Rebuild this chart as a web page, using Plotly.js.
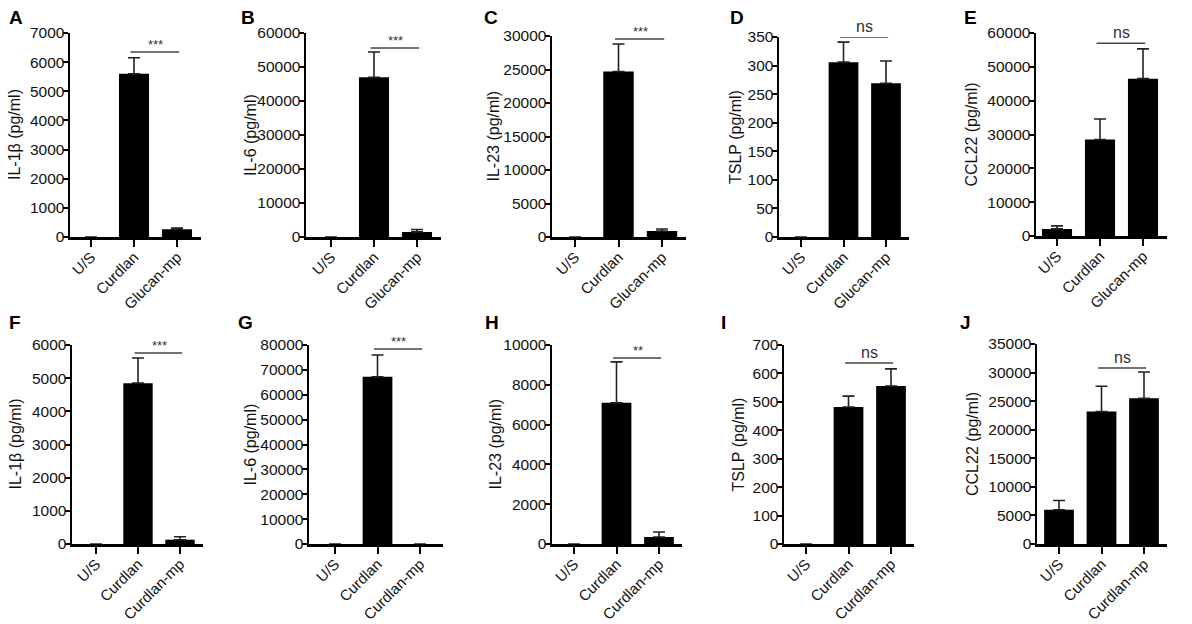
<!DOCTYPE html>
<html>
<head>
<meta charset="utf-8">
<script src="https://cdn.plot.ly/plotly-3.0.1.min.js"></script>
<style>html,body{margin:0;padding:0;background:#fff;}#chart{width:1192px;height:624px;}</style>
</head>
<body>
<div id="chart"></div>
<script>
// ---- data ----
const categoriesTop = ['U/S', 'Curdlan', 'Glucan-mp'];
const categoriesBottom = ['U/S', 'Curdlan', 'Curdlan-mp'];
const panelLetters = ['A', 'B', 'C', 'D', 'E', 'F', 'G', 'H', 'I', 'J'];
const yTitles = ['IL-1β (pg/ml)', 'IL-6 (pg/ml)', 'IL-23 (pg/ml)', 'TSLP (pg/ml)', 'CCL22 (pg/ml)',
                 'IL-1β (pg/ml)', 'IL-6 (pg/ml)', 'IL-23 (pg/ml)', 'TSLP (pg/ml)', 'CCL22 (pg/ml)'];

const meanA = [0, 5600, 270];    const errA = [0, 550, 40];
const meanB = [0, 47000, 1500];  const errB = [0, 7400, 700];
const meanC = [0, 24700, 900];   const errC = [0, 4100, 300];
const meanD = [0, 306, 269];     const errD = [0, 35, 39];
const meanE = [2100, 28500, 46500]; const errE = [900, 6100, 8800];
const meanF = [0, 4850, 130];    const errF = [0, 760, 90];
const meanG = [0, 67200, 0];     const errG = [0, 8800, 0];
const meanH = [0, 7100, 350];    const errH = [0, 2050, 250];
const meanI = [0, 482, 556];     const errI = [0, 38, 60];
const meanJ = [6000, 23200, 25500]; const errJ = [1600, 4400, 4600];

const yMax  = [7000, 60000, 30000, 350, 60000, 6000, 80000, 10000, 700, 35000];
const yStep = [1000, 10000, 5000, 50, 10000, 1000, 10000, 2000, 100, 5000];

const sigLabels = ['***', '***', '***', 'ns', 'ns', '***', '***', '**', 'ns', 'ns'];
const sigValues = [6350, 55600, 29550, 350, 57000, 5760, 78400, 9350, 637, 30800];

const means = [meanA, meanB, meanC, meanD, meanE, meanF, meanG, meanH, meanI, meanJ];
const errs  = [errA, errB, errC, errD, errE, errF, errG, errH, errI, errJ];

// ---- layout geometry (pixels) ----
const W = 1192, H = 624;
const axisX   = [70, 306, 552, 779, 1036, 72, 309, 552, 784, 1037];
const tick0X  = [91, 331, 575, 801, 1057, 96, 335, 574, 806, 1059];
const spacing = [43, 43, 43.5, 42.5, 43, 42, 42.5, 42.5, 42.5, 42.5];
const topY    = [33, 33, 36, 37, 33, 345, 345, 345, 345, 344];
const zeroY   = [237, 237, 237, 237, 236, 544, 544, 544, 544, 544];
const titleX  = [14, 250, 493, 735, 971, 15, 250, 495, 738, 972];
const letterX = [7, 239, 482, 728, 962, 7, 236, 483, 719, 958];
const letterY = [17, 17, 17, 17, 17, 322, 322, 322, 322, 322];

const FONT = '"Liberation Sans", Arial, Helvetica, sans-serif';
const traces = [];
const layout = {
  width: W, height: H,
  margin: {l: 0, r: 0, t: 0, b: 0},
  paper_bgcolor: '#fff', plot_bgcolor: 'rgba(0,0,0,0)',
  showlegend: false,
  font: {family: FONT, size: 16, color: '#111'},
  annotations: [], shapes: []
};

for (let i = 0; i < 10; i++) {
  const n = i + 1;
  const xa = 'x' + (n === 1 ? '' : n), ya = 'y' + (n === 1 ? '' : n);
  const cats = i < 5 ? categoriesTop : categoriesBottom;
  traces.push({
    type: 'bar', x: [0, 1, 2], y: means[i], xaxis: xa, yaxis: ya,
    width: 0.7, marker: {color: '#000', line: {width: 0}},
    error_y: {type: 'data', array: errs[i], arrayminus: [0, 0, 0], symmetric: false,
              color: '#222', thickness: 1.6, width: 6},
    hoverinfo: 'skip'
  });
  const left = -(tick0X[i] - axisX[i]) / spacing[i];
  const right = 2.55;
  const x0 = axisX[i] / W, x1 = (tick0X[i] + right * spacing[i]) / W;
  const y0 = 1 - zeroY[i] / H, y1 = 1 - topY[i] / H;
  layout['xaxis' + (n === 1 ? '' : n)] = {
    domain: [x0, x1], anchor: ya, range: [left, right],
    tickmode: 'array', tickvals: [0, 1, 2], ticktext: cats, tickangle: -45,
    showline: true, linecolor: '#000', linewidth: 2.5,
    ticks: 'outside', ticklen: 7, tickwidth: 2, tickcolor: '#000',
    ticklabelstandoff: -4,
    showgrid: false, zeroline: false, fixedrange: true,
    tickfont: {family: FONT, size: 15, color: '#111'}
  };
  layout['yaxis' + (n === 1 ? '' : n)] = {
    domain: [y0, y1], anchor: xa, range: [0, yMax[i]],
    tick0: 0, dtick: yStep[i], tickformat: 'd',
    showline: true, linecolor: '#000', linewidth: 2.5,
    ticks: 'outside', ticklen: 5, tickwidth: 2, tickcolor: '#000',
    ticklabelstandoff: -5,
    showgrid: false, zeroline: false, fixedrange: true,
    tickfont: {family: FONT, size: 15.5, color: '#111'}
  };
  // y title
  layout.annotations.push({
    xref: 'paper', yref: 'paper', x: titleX[i] / W, y: 1 - (topY[i] + zeroY[i]) / 2 / H,
    text: yTitles[i], textangle: -90, showarrow: false, xanchor: 'center', yanchor: 'middle',
    font: {family: FONT, size: 16, color: '#111'}
  });
  // panel letter
  layout.annotations.push({
    xref: 'paper', yref: 'paper', x: letterX[i] / W, y: 1 - letterY[i] / H,
    text: '<b>' + panelLetters[i] + '</b>', showarrow: false, xanchor: 'left', yanchor: 'middle',
    font: {family: FONT, size: 19, color: '#000'}
  });
  // significance bracket
  layout.shapes.push({
    type: 'line', xref: xa, yref: ya, x0: 0.92, x1: 2.05, y0: sigValues[i], y1: sigValues[i],
    line: {color: '#444', width: 1.5}
  });
  const isStar = sigLabels[i].indexOf('*') >= 0;
  layout.annotations.push({
    xref: xa, yref: ya, x: 1.5, y: sigValues[i], text: sigLabels[i], showarrow: false,
    xanchor: 'center', yanchor: 'bottom', yshift: isStar ? -2 : 0,
    font: {family: FONT, size: isStar ? 13 : 16, color: '#333'}
  });
}

Plotly.newPlot('chart', traces, layout, {staticPlot: true, displayModeBar: false});
</script>
</body>
</html>
